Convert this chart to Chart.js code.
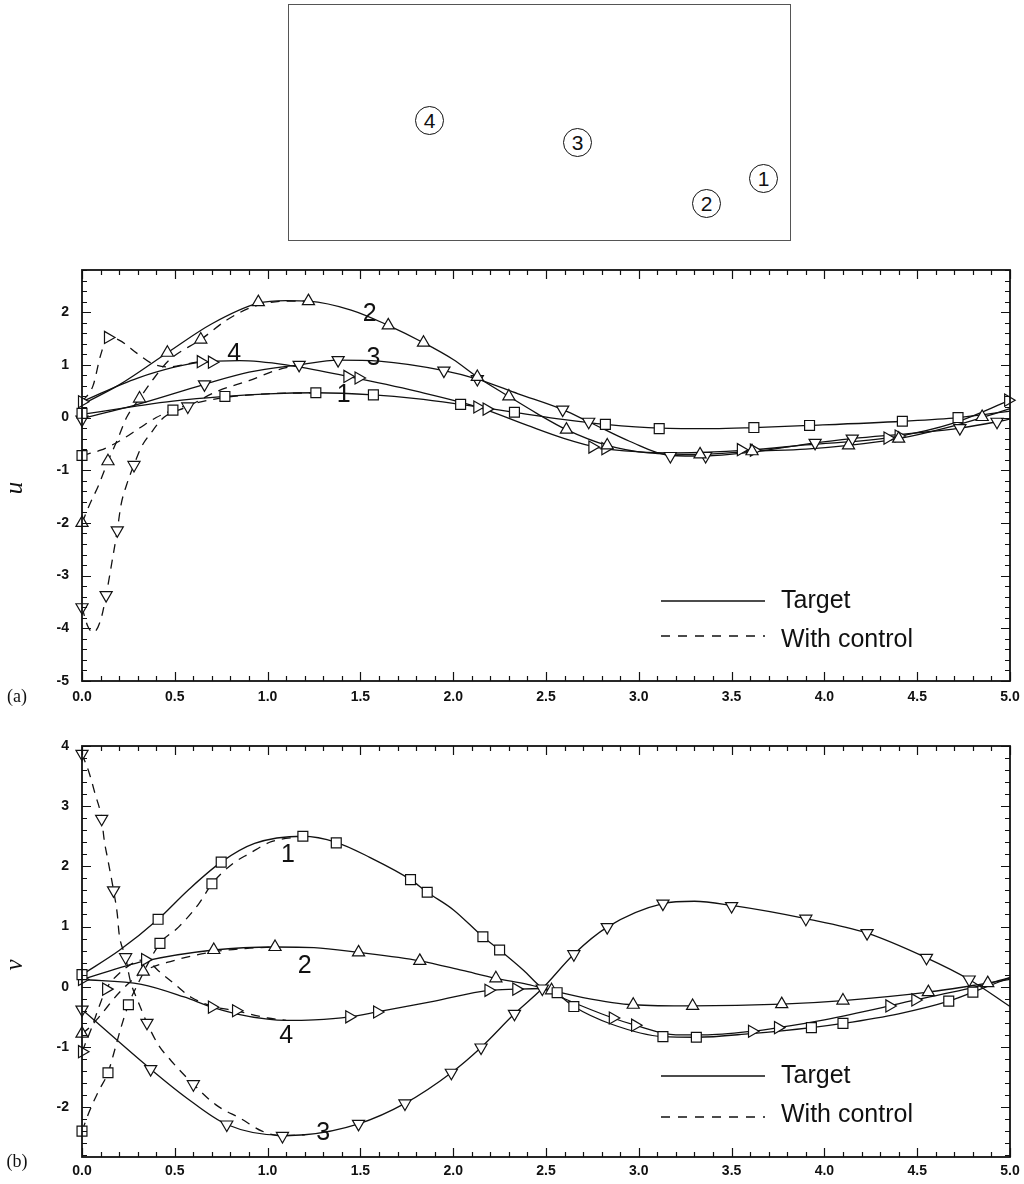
<!DOCTYPE html>
<html>
<head>
<meta charset="utf-8">
<title>Velocity histories at four probes</title>
<script src="https://cdn.jsdelivr.net/npm/chart.js@4.4.1/dist/chart.umd.min.js"></script>
<style>
  html, body { margin: 0; padding: 0; background: #fff; }
  #page { position: relative; width: 1024px; height: 1184px; overflow: hidden; background: #fff; }
  #domain { position: absolute; left: 288px; top: 4px; width: 503px; height: 237px;
            border: 1px solid #555; box-sizing: border-box; }
  .probe { position: absolute; width: 29px; height: 29px; margin: -15px 0 0 -15px;
           border: 1.2px solid #111; border-radius: 50%; box-sizing: border-box;
           font: 21px "Liberation Sans", Arial, sans-serif; color: #111;
           text-align: center; line-height: 27px; }
  canvas { position: absolute; left: 0; }
  #chartU { top: 250px; }
  #chartV { top: 720px; }
</style>
</head>
<body>
<div id="page">
  <div id="domain"></div>
  <div class="probe" style="left:430px;top:121px">4</div>
  <div class="probe" style="left:578px;top:143px">3</div>
  <div class="probe" style="left:707px;top:204px">2</div>
  <div class="probe" style="left:764px;top:179px">1</div>
  <canvas id="chartU" width="1024" height="470"></canvas>
  <canvas id="chartV" width="1024" height="464"></canvas>
</div>
<script>
// ---- axis ticks ----
const xTicks = [0, 0.5, 1, 1.5, 2, 2.5, 3, 3.5, 4, 4.5, 5];
const uTicks = [-5, -4, -3, -2, -1, 0, 1, 2];
const vTicks = [-2, -1, 0, 1, 2, 3, 4];

// ---- u velocity: target histories (solid) ----
const uTarget1 = [[0,0.06],[0.3,0.22],[0.49,0.31],[0.77,0.40],[1.0,0.45],[1.26,0.47],[1.57,0.43],[1.8,0.36],[2.04,0.25],[2.33,0.10],[2.6,-0.04],[2.82,-0.13],[3.11,-0.20],[3.4,-0.21],[3.62,-0.19],[3.92,-0.15],[4.42,-0.07],[4.72,0.0],[5.0,0.12]];
const uTarget2 = [[0,0.25],[0.2,0.62],[0.46,1.23],[0.7,1.78],[0.95,2.17],[1.1,2.22],[1.22,2.21],[1.45,2.04],[1.65,1.75],[1.84,1.42],[2.0,1.10],[2.13,0.77],[2.3,0.40],[2.45,0.08],[2.61,-0.23],[2.83,-0.53],[3.05,-0.67],[3.33,-0.70],[3.61,-0.64],[3.9,-0.60],[4.13,-0.53],[4.4,-0.40],[4.65,-0.20],[4.85,0.0],[5.0,0.17]];
const uTarget3 = [[0,-0.02],[0.3,0.25],[0.66,0.63],[0.9,0.86],[1.17,1.0],[1.38,1.09],[1.6,1.07],[1.95,0.89],[2.13,0.73],[2.35,0.45],[2.59,0.15],[2.73,-0.08],[2.95,-0.45],[3.17,-0.72],[3.36,-0.73],[3.6,-0.66],[3.95,-0.48],[4.15,-0.40],[4.5,-0.29],[4.73,-0.20],[4.93,-0.08],[5.0,-0.03]];
const uTarget4 = [[0,0.30],[0.3,0.75],[0.64,1.05],[0.85,1.08],[1.1,1.0],[1.43,0.78],[1.8,0.50],[2.15,0.18],[2.4,-0.15],[2.6,-0.40],[2.78,-0.57],[3.0,-0.65],[3.2,-0.67],[3.58,-0.62],[3.9,-0.52],[4.37,-0.37],[4.7,-0.10],[5.0,0.33]];

// ---- u velocity: controlled histories (dashed, until they join the target) ----
const uControl1 = [[0,-0.72],[0.1,-0.62],[0.2,-0.45],[0.31,-0.20],[0.40,0.0],[0.49,0.14],[0.62,0.28],[0.77,0.38],[1.0,0.45],[1.26,0.47]];
const uControl2 = [[0,-2.0],[0.04,-1.66],[0.09,-1.28],[0.14,-0.83],[0.19,-0.43],[0.24,0.0],[0.31,0.36],[0.38,0.71],[0.47,1.09],[0.64,1.48],[0.78,1.85],[0.92,2.10],[1.1,2.21],[1.22,2.21]];
const uControl3 = [[0,-3.6],[0.03,-3.95],[0.06,-4.08],[0.1,-3.85],[0.13,-3.37],[0.16,-2.77],[0.19,-2.14],[0.21,-1.66],[0.24,-1.28],[0.28,-0.90],[0.32,-0.56],[0.37,-0.30],[0.44,0.0],[0.57,0.21],[0.73,0.50],[0.9,0.70],[1.05,0.90],[1.17,1.0]];
const uControl4 = [[0,0.30],[0.06,0.61],[0.1,1.18],[0.14,1.52],[0.2,1.47],[0.3,1.21],[0.38,1.02],[0.47,0.96],[0.57,1.02],[0.64,1.06],[0.7,1.05]];

// ---- u velocity: symbol positions ----
const uTarget1Marks = [[0,0.08],[0.77,0.40],[1.26,0.47],[1.57,0.43],[2.04,0.25],[2.33,0.10],[2.82,-0.13],[3.11,-0.21],[3.62,-0.19],[3.92,-0.15],[4.42,-0.07],[4.72,0.0]];
const uTarget2Marks = [[0.46,1.23],[0.95,2.19],[1.22,2.21],[1.65,1.75],[1.84,1.42],[2.13,0.77],[2.30,0.40],[2.61,-0.23],[2.83,-0.53],[3.33,-0.70],[3.61,-0.64],[4.13,-0.53],[4.40,-0.40],[4.85,0.01]];
const uTarget3Marks = [[0,-0.04],[0.66,0.63],[1.17,1.0],[1.38,1.09],[1.95,0.89],[2.13,0.73],[2.59,0.15],[2.73,-0.08],[3.17,-0.73],[3.36,-0.73],[3.95,-0.48],[4.15,-0.40],[4.73,-0.20],[4.93,-0.08]];
const uTarget4Marks = [[0,0.30],[0.64,1.06],[0.70,1.05],[1.43,0.78],[1.49,0.75],[2.13,0.20],[2.18,0.16],[2.75,-0.56],[2.82,-0.59],[3.55,-0.61],[3.62,-0.62],[4.34,-0.39],[4.40,-0.35],[4.99,0.33]];
const uControl1Marks = [[0,-0.72],[0.49,0.14]];
const uControl2Marks = [[0,-2.0],[0.14,-0.83],[0.31,0.36],[0.64,1.48]];
const uControl3Marks = [[0,-3.6],[0.13,-3.37],[0.19,-2.14],[0.28,-0.90],[0.57,0.21]];
const uControl4Marks = [[0.14,1.52]];

// ---- v velocity: target histories (solid) ----
const vTarget1 = [[0,0.20],[0.2,0.60],[0.41,1.12],[0.57,1.60],[0.75,2.07],[0.93,2.38],[1.19,2.50],[1.37,2.40],[1.55,2.15],[1.77,1.78],[1.86,1.57],[2.0,1.28],[2.16,0.83],[2.25,0.61],[2.38,0.27],[2.48,-0.02],[2.56,-0.12],[2.65,-0.33],[2.85,-0.62],[3.13,-0.83],[3.31,-0.84],[3.6,-0.78],[3.93,-0.68],[4.10,-0.61],[4.4,-0.45],[4.67,-0.24],[4.80,-0.09],[5.0,0.15]];
const vTarget2 = [[0,0.12],[0.33,0.42],[0.71,0.61],[1.04,0.66],[1.25,0.65],[1.49,0.57],[1.82,0.43],[2.05,0.27],[2.23,0.14],[2.4,0.04],[2.53,-0.06],[2.7,-0.18],[2.97,-0.30],[3.29,-0.32],[3.77,-0.29],[4.10,-0.23],[4.56,-0.09],[4.88,0.06],[5.0,0.12]];
const vTarget3 = [[0,-0.38],[0.37,-1.37],[0.56,-1.84],[0.78,-2.29],[1.08,-2.47],[1.2,-2.46],[1.49,-2.28],[1.74,-1.94],[1.99,-1.43],[2.15,-1.01],[2.33,-0.45],[2.48,-0.03],[2.65,0.54],[2.83,0.99],[3.13,1.38],[3.3,1.42],[3.50,1.35],[3.90,1.13],[4.23,0.89],[4.55,0.48],[4.78,0.12],[5.0,-0.33]];
const vTarget4 = [[0,0.12],[0.32,0.04],[0.55,-0.17],[0.70,-0.34],[0.83,-0.45],[1.0,-0.54],[1.1,-0.56],[1.25,-0.55],[1.44,-0.50],[1.59,-0.42],[1.9,-0.24],[2.19,-0.06],[2.34,-0.04],[2.48,-0.03],[2.6,-0.20],[2.86,-0.52],[2.98,-0.64],[3.2,-0.80],[3.35,-0.80],[3.61,-0.74],[3.75,-0.68],[4.0,-0.55],[4.35,-0.32],[4.49,-0.22],[4.75,-0.05],[5.0,0.15]];

// ---- v velocity: controlled histories (dashed) ----
const vControl1 = [[0,-2.40],[0.04,-2.07],[0.09,-1.73],[0.14,-1.43],[0.18,-1.01],[0.21,-0.68],[0.25,-0.30],[0.3,0.04],[0.42,0.72],[0.52,0.99],[0.63,1.38],[0.7,1.71],[0.81,2.04],[0.9,2.21],[1.02,2.41],[1.19,2.50]];
const vControl2 = [[0,-0.78],[0.04,-0.68],[0.09,-0.51],[0.2,-0.10],[0.33,0.25],[0.49,0.43],[0.71,0.58],[0.9,0.64],[1.04,0.66]];
const vControl3 = [[0,3.87],[0.04,3.54],[0.07,3.21],[0.106,2.79],[0.12,2.43],[0.14,2.10],[0.17,1.60],[0.19,1.21],[0.2,0.88],[0.235,0.49],[0.26,0.10],[0.3,-0.23],[0.35,-0.60],[0.41,-0.96],[0.48,-1.23],[0.6,-1.62],[0.72,-1.96],[0.86,-2.20],[0.97,-2.40],[1.08,-2.48],[1.2,-2.46]];
const vControl4 = [[0,-1.08],[0.05,-0.70],[0.09,-0.35],[0.13,-0.04],[0.2,0.22],[0.28,0.40],[0.34,0.45],[0.41,0.27],[0.5,0.04],[0.59,-0.18],[0.72,-0.34],[0.83,-0.40],[1.0,-0.52],[1.1,-0.56]];

// ---- v velocity: symbol positions ----
const vTarget1Marks = [[0,0.20],[0.41,1.12],[0.75,2.07],[1.19,2.50],[1.37,2.39],[1.77,1.78],[1.86,1.57],[2.16,0.83],[2.25,0.61],[2.56,-0.10],[2.65,-0.33],[3.13,-0.83],[3.31,-0.84],[3.93,-0.68],[4.10,-0.61],[4.67,-0.24],[4.80,-0.09]];
const vTarget2Marks = [[0.71,0.61],[1.04,0.66],[1.49,0.57],[1.82,0.43],[2.23,0.14],[2.53,-0.06],[2.97,-0.30],[3.29,-0.32],[3.77,-0.29],[4.10,-0.23],[4.56,-0.09],[4.88,0.06]];
const vTarget3Marks = [[0,-0.38],[0.37,-1.37],[0.78,-2.29],[1.49,-2.28],[1.74,-1.94],[1.99,-1.43],[2.15,-1.01],[2.33,-0.45],[2.48,-0.03],[2.65,0.54],[2.83,0.99],[3.13,1.38],[3.50,1.34],[3.90,1.13],[4.23,0.89],[4.55,0.48],[4.78,0.12]];
const vTarget4Marks = [[0,0.12],[0.70,-0.34],[1.44,-0.50],[1.59,-0.42],[2.19,-0.06],[2.34,-0.04],[2.86,-0.52],[2.98,-0.64],[3.61,-0.74],[3.75,-0.68],[4.35,-0.32],[4.49,-0.22]];
const vControl1Marks = [[0,-2.40],[0.14,-1.43],[0.25,-0.30],[0.42,0.72],[0.70,1.71]];
const vControl2Marks = [[0,-0.78],[0.33,0.25]];
const vControl3Marks = [[0,3.87],[0.106,2.79],[0.17,1.60],[0.235,0.49],[0.35,-0.60],[0.6,-1.62],[1.08,-2.48]];
const vControl4Marks = [[0,-1.08],[0.13,-0.04],[0.34,0.45],[0.83,-0.40]];

// ---- drawing helpers ----
const INK = '#111';
const SYMBOLS = {
  1: { pointStyle: 'rect', rotation: 0, radius: 7 },
  2: { pointStyle: 'triangle', rotation: 0, radius: 7 },
  3: { pointStyle: 'triangle', rotation: 180, radius: 7 },
  4: { pointStyle: 'triangle', rotation: 90, radius: 7 }
};
const toXY = pts => pts.map(([x, y]) => ({ x, y }));

function lineSet(points, dashed) {
  return {
    data: toXY(points), showLine: true, borderColor: INK, borderWidth: 1.3,
    borderDash: dashed ? [9, 7] : [], pointRadius: 0, pointHoverRadius: 0,
    cubicInterpolationMode: 'monotone', fill: false, clip: false
  };
}
function markSet(points, probe) {
  const s = SYMBOLS[probe];
  return {
    data: toXY(points), showLine: false, pointStyle: s.pointStyle, rotation: s.rotation,
    pointRadius: s.radius, pointHoverRadius: s.radius, pointBackgroundColor: '#fff',
    pointBorderColor: INK, pointBorderWidth: 1.2, clip: false
  };
}
function buildDatasets(targets, controls, targetMarks, controlMarks) {
  const marks = [], lines = [];
  for (let i = 0; i < 4; i++) {
    marks.push(markSet(targetMarks[i], i + 1), markSet(controlMarks[i], i + 1));
    lines.push(lineSet(targets[i], false), lineSet(controls[i], true));
  }
  return marks.concat(lines); // symbols first so they sit above the curves
}

// frame with inward major/minor ticks on all sides, curve numbers, key and titles
const decorPlugin = {
  id: 'decor',
  afterDatasetsDraw(chart, args, o) {
    const { ctx, chartArea: a, scales: { x, y } } = chart;
    ctx.save();
    ctx.strokeStyle = INK;
    ctx.lineWidth = 1.2;
    ctx.beginPath();
    for (let i = 0; i <= 50; i++) {
      const px = Math.round(x.getPixelForValue(i / 10)) + 0.5;
      const len = i % 5 === 0 ? 9 : 5;
      ctx.moveTo(px, a.bottom); ctx.lineTo(px, a.bottom - len);
      ctx.moveTo(px, a.top); ctx.lineTo(px, a.top + len);
    }
    const k0 = Math.ceil(y.min / 0.2 - 1e-6), k1 = Math.floor(y.max / 0.2 + 1e-6);
    for (let k = k0; k <= k1; k++) {
      const py = Math.round(y.getPixelForValue(k * 0.2)) + 0.5;
      const len = k % 5 === 0 ? 9 : 5;
      ctx.moveTo(a.left, py); ctx.lineTo(a.left + len, py);
      ctx.moveTo(a.right, py); ctx.lineTo(a.right - len, py);
    }
    ctx.stroke();
    ctx.lineWidth = 1.8;
    ctx.strokeRect(a.left, a.top, a.right - a.left, a.bottom - a.top);

    // probe numbers beside the curves
    ctx.fillStyle = INK;
    ctx.font = '25px "Liberation Sans", Arial, sans-serif';
    ctx.textAlign = 'center';
    ctx.textBaseline = 'middle';
    o.curveLabels.forEach(([t, vx, vy]) => {
      ctx.fillText(t, x.getPixelForValue(vx), y.getPixelForValue(vy));
    });

    // key: solid = target, dashed = with control
    ctx.font = '25px "Liberation Sans", Arial, sans-serif';
    ctx.textAlign = 'left';
    ctx.textBaseline = 'alphabetic';
    ctx.lineWidth = 1.3;
    o.key.forEach(k => {
      ctx.setLineDash(k.dash);
      ctx.beginPath();
      ctx.moveTo(k.x0, k.ly); ctx.lineTo(k.x1, k.ly);
      ctx.stroke();
      ctx.setLineDash([]);
      ctx.fillText(k.text, k.tx, k.ty);
    });

    // axis title and panel tag
    ctx.font = 'italic 25px "Liberation Serif", "Times New Roman", serif';
    ctx.textAlign = 'center';
    ctx.textBaseline = 'middle';
    ctx.save();
    ctx.translate(o.title.x, o.title.y);
    ctx.rotate(-Math.PI / 2);
    ctx.fillText(o.title.text, 0, 0);
    ctx.restore();
    ctx.font = '18px "Liberation Serif", "Times New Roman", serif';
    ctx.fillText(o.tag.text, o.tag.x, o.tag.y);
    ctx.restore();
  }
};

const tickFont = { family: '"Liberation Sans", Arial, sans-serif', size: 14, weight: 'bold' };

function makeChart(id, datasets, yTicks, yMin, yMax, padTop, xHeight, xPad, decor) {
  return new Chart(document.getElementById(id), {
    type: 'scatter',
    data: { datasets },
    options: {
      responsive: false, animation: false, devicePixelRatio: 1,
      layout: { padding: { left: 0, right: 14, top: padTop, bottom: 0 } },
      plugins: { legend: { display: false }, tooltip: { enabled: false }, decor },
      events: [],
      scales: {
        x: {
          type: 'linear', min: 0, max: 5,
          grid: { display: false, drawTicks: false }, border: { display: false },
          afterBuildTicks: s => { s.ticks = xTicks.map(v => ({ value: v })); },
          afterFit: s => { s.height = xHeight; s.paddingLeft = 0; s.paddingRight = 0; },
          ticks: { color: INK, font: tickFont, padding: xPad, maxRotation: 0,
                   callback: v => Number(v).toFixed(1) }
        },
        y: {
          type: 'linear', min: yMin, max: yMax,
          grid: { display: false, drawTicks: false }, border: { display: false },
          afterBuildTicks: s => { s.ticks = yTicks.map(v => ({ value: v })); },
          afterFit: s => { s.width = 82; s.paddingTop = 0; s.paddingBottom = 0; },
          ticks: { color: INK, font: tickFont, padding: 13, callback: v => String(v) }
        }
      }
    },
    plugins: [decorPlugin]
  });
}

makeChart('chartU',
  buildDatasets([uTarget1, uTarget2, uTarget3, uTarget4],
                [uControl1, uControl2, uControl3, uControl4],
                [uTarget1Marks, uTarget2Marks, uTarget3Marks, uTarget4Marks],
                [uControl1Marks, uControl2Marks, uControl3Marks, uControl4Marks]),
  uTicks, -5, 2.8, 20, 39, 8,
  {
    curveLabels: [['2', 1.55, 1.97], ['4', 0.82, 1.21], ['3', 1.57, 1.12], ['1', 1.41, 0.42]],
    key: [
      { text: 'Target', dash: [], x0: 661, x1: 765, ly: 351, tx: 781, ty: 358 },
      { text: 'With control', dash: [9, 8], x0: 661, x1: 765, ly: 386, tx: 781, ty: 397 }
    ],
    title: { text: 'u', x: 15, y: 238 },
    tag: { text: '(a)', x: 17, y: 447 }
  });

makeChart('chartV',
  buildDatasets([vTarget1, vTarget2, vTarget3, vTarget4],
                [vControl1, vControl2, vControl3, vControl4],
                [vTarget1Marks, vTarget2Marks, vTarget3Marks, vTarget4Marks],
                [vControl1Marks, vControl2Marks, vControl3Marks, vControl4Marks]),
  vTicks, -2.83, 4, 26, 27, 6,
  {
    curveLabels: [['1', 1.11, 2.18], ['2', 1.20, 0.35], ['4', 1.10, -0.82], ['3', 1.30, -2.43]],
    key: [
      { text: 'Target', dash: [], x0: 661, x1: 765, ly: 356, tx: 781, ty: 363 },
      { text: 'With control', dash: [9, 8], x0: 661, x1: 765, ly: 397, tx: 781, ty: 402 }
    ],
    title: { text: 'v', x: 15, y: 245 },
    tag: { text: '(b)', x: 17, y: 442 }
  });
</script>
</body>
</html>
